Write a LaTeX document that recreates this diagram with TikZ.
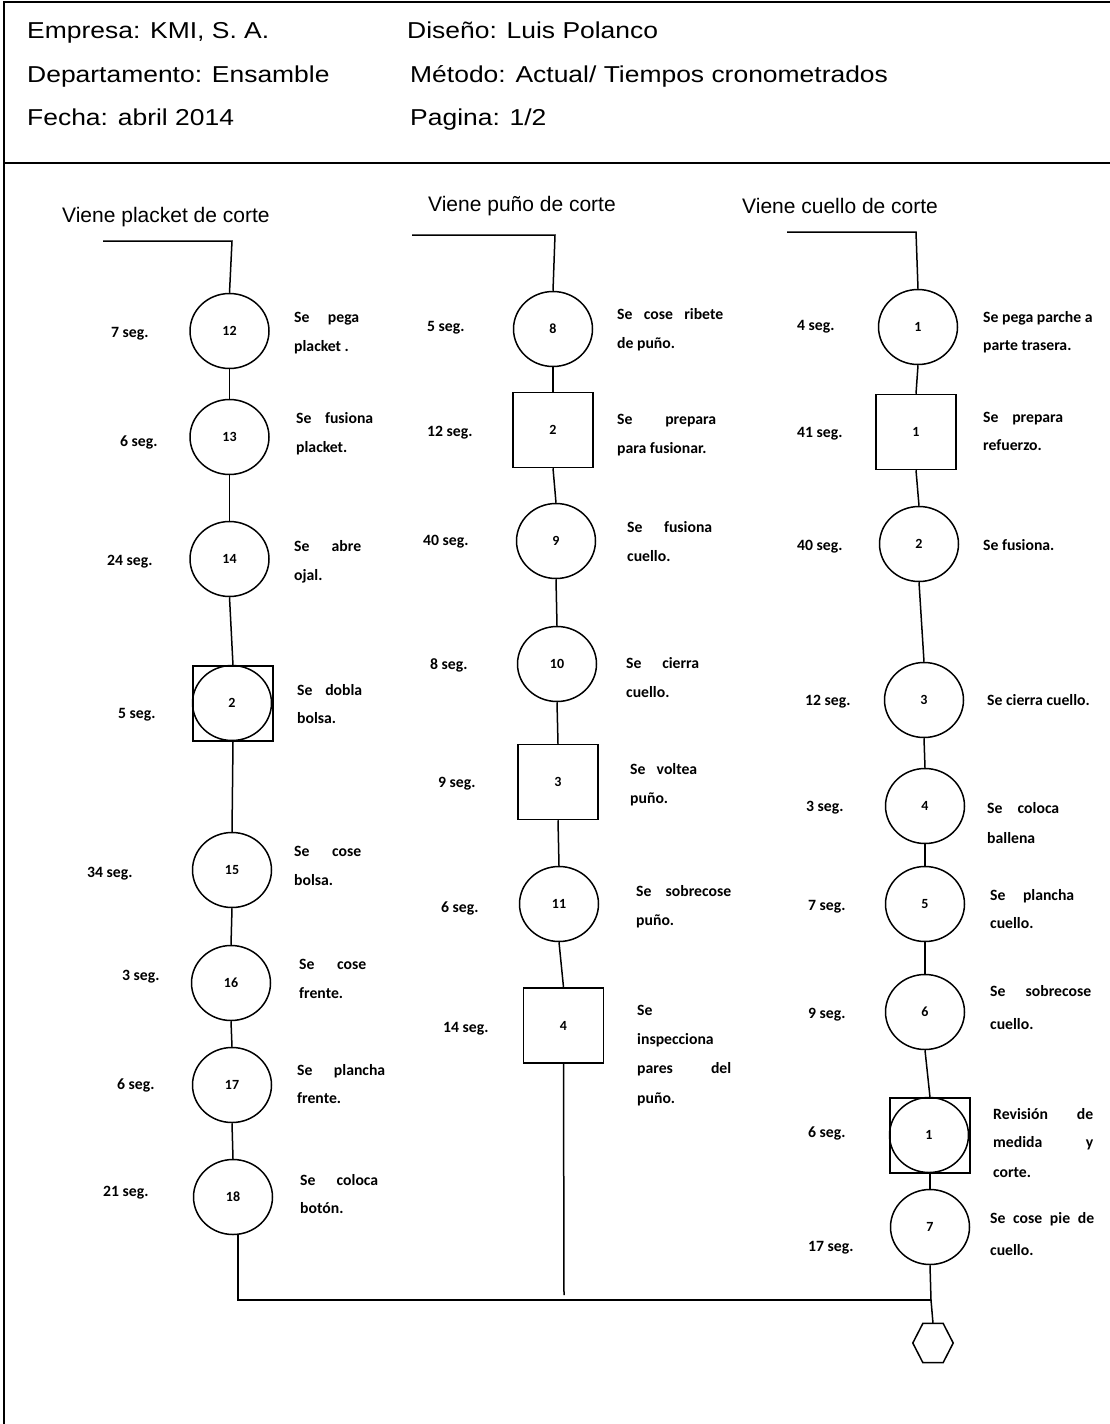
\documentclass[tikz,border=0pt]{standalone}
\usepackage{fontspec}
\setmainfont{Liberation Sans}
\newfontfamily\calfont{Carlito}
\usetikzlibrary{shapes.geometric,calc}
\newcommand\jl[2]{\makebox[#1pt][s]{#2}}
\newcommand\hs[1]{\scalebox{1.15}[1]{#1}}
\tikzset{
  op/.style={ellipse, draw, line width=1.5pt, minimum width=79pt, minimum height=75pt, inner sep=0pt, font=\calfont\bfseries\fontsize{14}{16}\selectfont},
  ins/.style={rectangle, draw, line width=1.5pt, minimum width=80pt, minimum height=75pt, inner sep=0pt, font=\calfont\bfseries\fontsize{14}{16}\selectfont},
  tx/.style={anchor=base west, inner sep=0pt, font=\calfont\bfseries\fontsize{15.7}{18}\selectfont},
  hd/.style={anchor=base west, inner sep=0pt, font=\fontsize{23}{26}\selectfont},
  vl/.style={anchor=base west, inner sep=0pt, font=\fontsize{21}{24}\selectfont},
  conn/.style={line width=1.5pt},
  frame/.style={line width=2pt},
}
\begin{document}
\begin{tikzpicture}[x=1pt,y=-1pt]
\useasboundingbox (0,0) rectangle (1110,1424);
% frame
\draw[frame] (4,1424) -- (4,2) -- (1110,2);
\draw[line width=2.5pt] (4,163) -- (1110,163);
% header
\node[hd] (h1) at (27,38) {\hs{Empresa: KMI, S. A.}};
\node[hd] (h2) at (407,38) {\hs{Diseño: Luis Polanco}};
\node[hd] (h3) at (27,82) {\hs{Departamento: Ensamble}};
\node[hd] (h4) at (410,82) {\hs{Método: Actual/ Tiempos cronometrados}};
\node[hd] (h5) at (27,125) {\hs{Fecha: abril 2014}};
\node[hd] (h6) at (410,125) {\hs{Pagina: 1/2}};
% column labels
\node[vl] (v1) at (62,222) {Viene placket de corte};
\node[vl] (v2) at (428,211) {Viene puño de corte};
\node[vl] (v3) at (742,213) {Viene cuello de corte};
% column 1
\node[op] (c12) at (229.5,331) {12};
\node[op] (c13) at (229.5,437) {13};
\node[op] (c14) at (229.5,559) {14};
\node[ins] (s2) at (233,703.5) {};
\node[op] (s2c) at (232,703) {2};
\node[op] (c15) at (232,870) {15};
\node[op] (c16) at (231,983) {16};
\node[op] (c17) at (232,1085) {17};
\node[op] (c18) at (233,1197) {18};
% column 2
\node[op] (c8) at (553,329) {8};
\node[ins] (s2b) at (553,430) {2};
\node[op] (c9) at (556,541) {9};
\node[op] (c10) at (557,664) {10};
\node[ins] (s3) at (558,782) {3};
\node[op] (c11) at (559,904) {11};
\node[ins] (s4) at (563.5,1025.5) {4};
% column 3
\node[op] (c1) at (918,327) {1};
\node[ins] (s1) at (916,432) {1};
\node[op] (c2) at (919,544) {2};
\node[op] (c3) at (924,700) {3};
\node[op] (c4) at (925,806) {4};
\node[op] (c5) at (925,904) {5};
\node[op] (c6) at (925,1012) {6};
\node[ins] (s1c) at (930,1135.5) {};
\node[op] (s1cc) at (929,1135) {1};
\node[op] (c7) at (930,1227) {7};
% hexagon
\node[minimum width=40pt, minimum height=39pt, inner sep=0pt] (hex) at (933,1343) {};
\draw[conn] (hex.west) -- ($(hex.north west)!0.25!(hex.north east)$) -- ($(hex.north west)!0.75!(hex.north east)$) -- (hex.east) -- ($(hex.south west)!0.75!(hex.south east)$) -- ($(hex.south west)!0.25!(hex.south east)$) -- cycle;
% start lines
\coordinate (a1) at (103,241); \coordinate (a1b) at (232,241);
\coordinate (a2) at (412,235); \coordinate (a2b) at (555,235);
\coordinate (a3) at (787,232); \coordinate (a3b) at (916,232);
\draw[conn] (a1) -- (a1b) -- (c12.north);
\draw[conn] (a2) -- (a2b) -- (c8.north);
\draw[conn] (a3) -- (a3b) -- (c1.north);
% connectors col 1
\draw[conn] (c12.south) -- (c13.north);
\draw[conn] (c13.south) -- (c14.north);
\draw[conn] (c14.south) -- (s2.north);
\draw[conn] (s2.south) -- (c15.north);
\draw[conn] (c15.south) -- (c16.north);
\draw[conn] (c16.south) -- (c17.north);
\draw[conn] (c17.south) -- (c18.north);
% connectors col 2
\draw[conn] (c8.south) -- (s2b.north);
\draw[conn] (s2b.south) -- (c9.north);
\draw[conn] (c9.south) -- (c10.north);
\draw[conn] (c10.south) -- (s3.north);
\draw[conn] (s3.south) -- (c11.north);
\draw[conn] (c11.south) -- (s4.north);
\coordinate (e2) at (564,1295);
\draw[conn] (s4.south) -- (e2);
% connectors col 3
\draw[conn] (c1.south) -- (s1.north);
\draw[conn] (s1.south) -- (c2.north);
\draw[conn] (c2.south) -- (c3.north);
\draw[conn] (c3.south) -- (c4.north);
\draw[conn] (c4.south) -- (c5.north);
\draw[conn] (c5.south) -- (c6.north);
\draw[conn] (c6.south) -- (s1c.north);
\draw[conn] (s1c.south) -- (c7.north);
% bottom join
\coordinate (j) at (931,1300);
\coordinate (b18) at ($(c18.south)+(5,0)$);
\draw[line width=2pt] (b18) |- (j);
\draw[conn] (c7.south) -- (j) -- (hex.north);
% time labels col 1
\node[tx] (t12) at (111,337) {7 seg.};
\node[tx] (t13) at (120,446) {6 seg.};
\node[tx] (t14) at (107,565) {24 seg.};
\node[tx] (ts2) at (118,718) {5 seg.};
\node[tx] (t15) at (87,877) {34 seg.};
\node[tx] (t16) at (122,980) {3 seg.};
\node[tx] (t17) at (117,1089) {6 seg.};
\node[tx] (t18) at (103,1196) {21 seg.};
% time labels col 2
\node[tx] (t8) at (427,331) {5 seg.};
\node[tx] (ts2b) at (427,436) {12 seg.};
\node[tx] (t9) at (423,545) {40 seg.};
\node[tx] (t10) at (430,669) {8 seg.};
\node[tx] (ts3) at (438,787) {9 seg.};
\node[tx] (t11) at (441,912) {6 seg.};
\node[tx] (ts4) at (443,1032) {14 seg.};
% time labels col 3
\node[tx] (t1) at (797,330) {4 seg.};
\node[tx] (ts1) at (797,437) {41 seg.};
\node[tx] (t2) at (797,550) {40 seg.};
\node[tx] (t3) at (805,705) {12 seg.};
\node[tx] (t4) at (806,811) {3 seg.};
\node[tx] (t5) at (808,910) {7 seg.};
\node[tx] (t6) at (808,1018) {9 seg.};
\node[tx] (ts1c) at (808,1137) {6 seg.};
\node[tx] (t7) at (808,1251) {17 seg.};
% descriptions col 1
\node[tx] (d12a) at (294,322) {\jl{65}{Se pega}};
\node[tx] (d12b) at (294,351) {placket .};
\node[tx] (d13a) at (296,423) {\jl{77}{Se fusiona}};
\node[tx] (d13b) at (296,452) {placket.};
\node[tx] (d14a) at (294,551) {\jl{67}{Se abre}};
\node[tx] (d14b) at (294,580) {ojal.};
\node[tx] (ds2a) at (297,695) {\jl{65}{Se dobla}};
\node[tx] (ds2b) at (297,723) {bolsa.};
\node[tx] (d15a) at (294,856) {\jl{67}{Se cose}};
\node[tx] (d15b) at (294,885) {bolsa.};
\node[tx] (d16a) at (299,969) {\jl{67}{Se cose}};
\node[tx] (d16b) at (299,998) {frente.};
\node[tx] (d17a) at (297,1075) {\jl{88}{Se plancha}};
\node[tx] (d17b) at (297,1103) {frente.};
\node[tx] (d18a) at (300,1185) {\jl{78}{Se coloca}};
\node[tx] (d18b) at (300,1213) {botón.};
% descriptions col 2
\node[tx] (d8a) at (617,319) {\jl{106}{Se cose ribete}};
\node[tx] (d8b) at (617,348) {de puño.};
\node[tx] (ds2ba) at (617,424) {\jl{99}{Se prepara}};
\node[tx] (ds2bb) at (617,453) {para fusionar.};
\node[tx] (d9a) at (627,532) {\jl{85}{Se fusiona}};
\node[tx] (d9b) at (627,561) {cuello.};
\node[tx] (d10a) at (626,668) {\jl{73}{Se cierra}};
\node[tx] (d10b) at (626,697) {cuello.};
\node[tx] (ds3a) at (630,774) {\jl{67}{Se voltea}};
\node[tx] (ds3b) at (630,803) {puño.};
\node[tx] (d11a) at (636,896) {\jl{95}{Se sobrecose}};
\node[tx] (d11b) at (636,925) {puño.};
\node[tx] (ds4a) at (637,1015) {Se};
\node[tx] (ds4b) at (637,1044) {inspecciona};
\node[tx] (ds4c) at (637,1073) {\jl{94}{pares del}};
\node[tx] (ds4d) at (637,1103) {puño.};
% descriptions col 3
\node[tx] (d1a) at (983,322) {Se pega parche a};
\node[tx] (d1b) at (983,350) {parte trasera.};
\node[tx] (ds1a) at (983,422) {\jl{80}{Se prepara}};
\node[tx] (ds1b) at (983,450) {refuerzo.};
\node[tx] (d2a) at (983,550) {Se fusiona.};
\node[tx] (d3a) at (987,705) {Se cierra cuello.};
\node[tx] (d4a) at (987,813) {\jl{72}{Se coloca}};
\node[tx] (d4b) at (987,843) {ballena};
\node[tx] (d5a) at (990,900) {\jl{84}{Se plancha}};
\node[tx] (d5b) at (990,928) {cuello.};
\node[tx] (d6a) at (990,996) {\jl{101}{Se sobrecose}};
\node[tx] (d6b) at (990,1029) {cuello.};
\node[tx] (ds1ca) at (993,1119) {\jl{100}{Revisión de}};
\node[tx] (ds1cb) at (993,1147) {\jl{100}{medida y}};
\node[tx] (ds1cc) at (993,1177) {corte.};
\node[tx] (d7a) at (990,1223) {\jl{104}{Se cose pie de}};
\node[tx] (d7b) at (990,1255) {cuello.};
\end{tikzpicture}
\end{document}
